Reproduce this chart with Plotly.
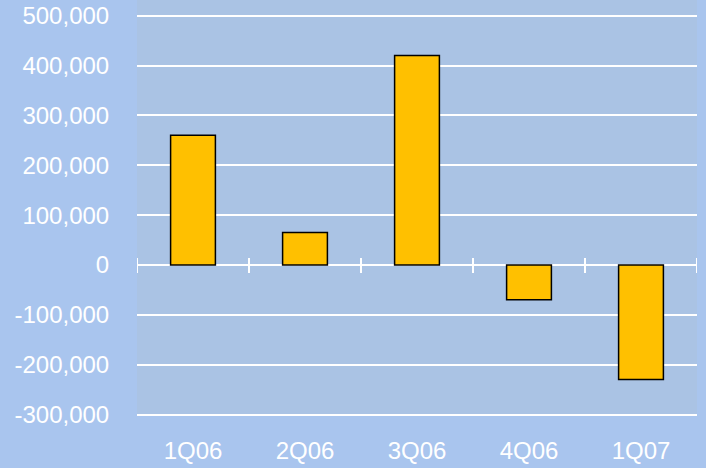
import plotly.graph_objects as go

# Quarterly values
quarters = ["1Q06", "2Q06", "3Q06", "4Q06", "1Q07"]
values = [260000, 65000, 420000, -70000, -230000]

# Y axis ticks
y_ticks = [-300000, -200000, -100000, 0, 100000, 200000, 300000, 400000, 500000]
y_labels = ["-300,000", "-200,000", "-100,000", "0", "100,000",
            "200,000", "300,000", "400,000", "500,000"]

OUTER_BG = "#A9C5EE"
PLOT_BG = "#AAC3E4"
FONT = "Liberation Sans, Arial, sans-serif"

fig = go.Figure()
fig.add_trace(go.Bar(
    x=list(range(len(quarters))),
    y=values,
    marker=dict(color="#FFC000", line=dict(color="#000000", width=1.5)),
    width=0.4,
    hoverinfo="skip",
))

# Tick marks crossing the zero line at category boundaries
for i in range(len(quarters) + 1):
    fig.add_shape(
        type="line", xref="x", yref="y",
        ysizemode="pixel", yanchor=0,
        x0=i - 0.5, x1=i - 0.5, y0=-8, y1=7,
        line=dict(color="white", width=2),
    )

fig.update_layout(
    width=706, height=468,
    margin=dict(l=137, r=9, t=0, b=52, autoexpand=False),
    paper_bgcolor=OUTER_BG,
    plot_bgcolor=PLOT_BG,
    showlegend=False,
    font=dict(family=FONT, color="white", size=24),
    xaxis=dict(
        range=[-0.5, len(quarters) - 0.5],
        tickmode="array",
        tickvals=list(range(len(quarters))),
        ticktext=quarters,
        showgrid=False, zeroline=False, showline=False,
        ticks="outside", ticklen=13, tickcolor="rgba(0,0,0,0)",
        tickfont=dict(size=24, color="white", family=FONT),
        automargin=False,
        fixedrange=True,
    ),
    yaxis=dict(
        range=[-303000, 531500],
        tickmode="array",
        tickvals=y_ticks,
        ticktext=y_labels,
        showgrid=True, gridcolor="white", gridwidth=2,
        zeroline=True, zerolinecolor="white", zerolinewidth=2,
        showline=False,
        ticks="outside", ticklen=22, tickcolor="rgba(0,0,0,0)",
        tickfont=dict(size=24, color="white", family=FONT),
        automargin=False,
        fixedrange=True,
    ),
)

fig.write_html("out.html")
